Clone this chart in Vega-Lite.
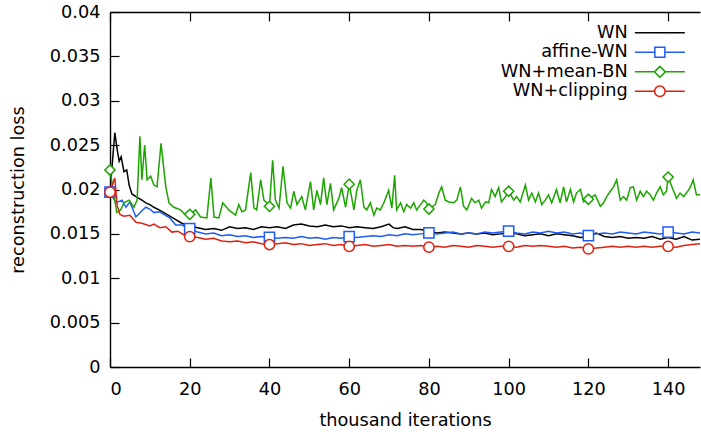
{
"$schema": "https://vega.github.io/schema/vega-lite/v6.json",
"width": 590, "height": 355,
"autosize": {"type": "none"},
"padding": {"left": 110, "top": 12, "right": 1, "bottom": 65},
"background": "white",
"config": {
  "view": {"stroke": null},
  "font": "DejaVu Sans",
  "axis": {"domainColor": "#000", "tickColor": "#000", "labelColor": "#000", "titleColor": "#000", "labelFont": "DejaVu Sans", "titleFont": "DejaVu Sans", "labelFontSize": 17.7, "titleFontSize": 17.7, "titleFontWeight": "normal", "grid": false, "domainWidth": 1.4, "tickWidth": 1.2}
},
"datasets": {
"d": [
{"s":"WN","x":0,"y":0.0197},{"s":"WN","x":1.2,"y":0.0264},{"s":"WN","x":1.8,"y":0.0245},{"s":"WN","x":2.3,"y":0.0232},{"s":"WN","x":2.8,"y":0.0237},{"s":"WN","x":3.5,"y":0.022},{"s":"WN","x":4.2,"y":0.0222},{"s":"WN","x":4.8,"y":0.0205},{"s":"WN","x":5.5,"y":0.0195},{"s":"WN","x":6.5,"y":0.0192},{"s":"WN","x":8,"y":0.0188},{"s":"WN","x":9,"y":0.0185},{"s":"WN","x":10,"y":0.0183},{"s":"WN","x":11,"y":0.018},{"s":"WN","x":12.3,"y":0.0177},{"s":"WN","x":13.5,"y":0.0174},{"s":"WN","x":15,"y":0.017},{"s":"WN","x":16.5,"y":0.0166},{"s":"WN","x":18,"y":0.0162},{"s":"WN","x":20,"y":0.0159},{"s":"WN","x":22,"y":0.0157},{"s":"WN","x":24,"y":0.0155},{"s":"WN","x":26,"y":0.0156},{"s":"WN","x":28,"y":0.0154},{"s":"WN","x":30,"y":0.0158},{"s":"WN","x":32,"y":0.0156},{"s":"WN","x":34,"y":0.0157},{"s":"WN","x":36,"y":0.0155},{"s":"WN","x":38,"y":0.0158},{"s":"WN","x":40,"y":0.0157},{"s":"WN","x":42,"y":0.0158},{"s":"WN","x":44,"y":0.0156},{"s":"WN","x":46,"y":0.016},{"s":"WN","x":48,"y":0.0161},{"s":"WN","x":50,"y":0.0159},{"s":"WN","x":52,"y":0.0158},{"s":"WN","x":54,"y":0.016},{"s":"WN","x":56,"y":0.0158},{"s":"WN","x":58,"y":0.0159},{"s":"WN","x":60,"y":0.0157},{"s":"WN","x":62,"y":0.0158},{"s":"WN","x":64,"y":0.0157},{"s":"WN","x":66,"y":0.0156},{"s":"WN","x":68,"y":0.0158},{"s":"WN","x":70,"y":0.0161},{"s":"WN","x":71,"y":0.0157},{"s":"WN","x":72,"y":0.0156},{"s":"WN","x":74,"y":0.0158},{"s":"WN","x":76,"y":0.0155},{"s":"WN","x":78,"y":0.0155},{"s":"WN","x":80,"y":0.0153},{"s":"WN","x":82,"y":0.0151},{"s":"WN","x":84,"y":0.0152},{"s":"WN","x":86,"y":0.0151},{"s":"WN","x":88,"y":0.015},{"s":"WN","x":90,"y":0.0151},{"s":"WN","x":92,"y":0.015},{"s":"WN","x":94,"y":0.0151},{"s":"WN","x":96,"y":0.0149},{"s":"WN","x":98,"y":0.015},{"s":"WN","x":100,"y":0.0151},{"s":"WN","x":102,"y":0.015},{"s":"WN","x":104,"y":0.0148},{"s":"WN","x":106,"y":0.0149},{"s":"WN","x":108,"y":0.015},{"s":"WN","x":110,"y":0.0148},{"s":"WN","x":112,"y":0.015},{"s":"WN","x":114,"y":0.0149},{"s":"WN","x":116,"y":0.0148},{"s":"WN","x":118,"y":0.0146},{"s":"WN","x":120,"y":0.0147},{"s":"WN","x":122,"y":0.0151},{"s":"WN","x":124,"y":0.0147},{"s":"WN","x":126,"y":0.0146},{"s":"WN","x":128,"y":0.0147},{"s":"WN","x":130,"y":0.0145},{"s":"WN","x":132,"y":0.0146},{"s":"WN","x":134,"y":0.0145},{"s":"WN","x":136,"y":0.0147},{"s":"WN","x":138,"y":0.0144},{"s":"WN","x":140,"y":0.0146},{"s":"WN","x":142,"y":0.0144},{"s":"WN","x":144,"y":0.0147},{"s":"WN","x":146,"y":0.0143},{"s":"WN","x":148,"y":0.0144},
{"s":"affine-WN","x":0,"y":0.0197},{"s":"affine-WN","x":1.5,"y":0.0185},{"s":"affine-WN","x":3,"y":0.0188},{"s":"affine-WN","x":4,"y":0.018},{"s":"affine-WN","x":5,"y":0.0186},{"s":"affine-WN","x":6.5,"y":0.0169},{"s":"affine-WN","x":8,"y":0.0176},{"s":"affine-WN","x":9,"y":0.018},{"s":"affine-WN","x":10,"y":0.0178},{"s":"affine-WN","x":11,"y":0.0174},{"s":"affine-WN","x":12.3,"y":0.0175},{"s":"affine-WN","x":13.5,"y":0.0172},{"s":"affine-WN","x":15,"y":0.0168},{"s":"affine-WN","x":16.5,"y":0.016},{"s":"affine-WN","x":18,"y":0.016},{"s":"affine-WN","x":20,"y":0.0156},{"s":"affine-WN","x":22,"y":0.0152},{"s":"affine-WN","x":24,"y":0.015},{"s":"affine-WN","x":26,"y":0.0151},{"s":"affine-WN","x":28,"y":0.0148},{"s":"affine-WN","x":30,"y":0.0149},{"s":"affine-WN","x":32,"y":0.0147},{"s":"affine-WN","x":34,"y":0.0148},{"s":"affine-WN","x":36,"y":0.0146},{"s":"affine-WN","x":38,"y":0.0147},{"s":"affine-WN","x":40,"y":0.0146},{"s":"affine-WN","x":42,"y":0.0145},{"s":"affine-WN","x":44,"y":0.0146},{"s":"affine-WN","x":46,"y":0.0145},{"s":"affine-WN","x":48,"y":0.0147},{"s":"affine-WN","x":50,"y":0.0145},{"s":"affine-WN","x":52,"y":0.0146},{"s":"affine-WN","x":54,"y":0.0144},{"s":"affine-WN","x":56,"y":0.0146},{"s":"affine-WN","x":58,"y":0.0145},{"s":"affine-WN","x":60,"y":0.0147},{"s":"affine-WN","x":62,"y":0.0146},{"s":"affine-WN","x":64,"y":0.0147},{"s":"affine-WN","x":66,"y":0.0148},{"s":"affine-WN","x":68,"y":0.0147},{"s":"affine-WN","x":70,"y":0.0149},{"s":"affine-WN","x":72,"y":0.0148},{"s":"affine-WN","x":74,"y":0.015},{"s":"affine-WN","x":76,"y":0.0149},{"s":"affine-WN","x":78,"y":0.015},{"s":"affine-WN","x":80,"y":0.0151},{"s":"affine-WN","x":82,"y":0.015},{"s":"affine-WN","x":84,"y":0.0151},{"s":"affine-WN","x":86,"y":0.0152},{"s":"affine-WN","x":88,"y":0.015},{"s":"affine-WN","x":90,"y":0.0151},{"s":"affine-WN","x":92,"y":0.015},{"s":"affine-WN","x":94,"y":0.0152},{"s":"affine-WN","x":96,"y":0.0151},{"s":"affine-WN","x":98,"y":0.0152},{"s":"affine-WN","x":100,"y":0.0153},{"s":"affine-WN","x":102,"y":0.0151},{"s":"affine-WN","x":104,"y":0.015},{"s":"affine-WN","x":106,"y":0.0152},{"s":"affine-WN","x":108,"y":0.0151},{"s":"affine-WN","x":110,"y":0.0153},{"s":"affine-WN","x":112,"y":0.0151},{"s":"affine-WN","x":114,"y":0.0152},{"s":"affine-WN","x":116,"y":0.015},{"s":"affine-WN","x":118,"y":0.0151},{"s":"affine-WN","x":120,"y":0.0148},{"s":"affine-WN","x":122,"y":0.015},{"s":"affine-WN","x":124,"y":0.0151},{"s":"affine-WN","x":126,"y":0.015},{"s":"affine-WN","x":128,"y":0.0152},{"s":"affine-WN","x":130,"y":0.0151},{"s":"affine-WN","x":132,"y":0.015},{"s":"affine-WN","x":134,"y":0.0152},{"s":"affine-WN","x":136,"y":0.0151},{"s":"affine-WN","x":138,"y":0.015},{"s":"affine-WN","x":140,"y":0.0152},{"s":"affine-WN","x":142,"y":0.0151},{"s":"affine-WN","x":144,"y":0.015},{"s":"affine-WN","x":146,"y":0.0152},{"s":"affine-WN","x":148,"y":0.0151},
{"s":"WN+mean-BN","x":0,"y":0.0222},{"s":"WN+mean-BN","x":1.7,"y":0.0174},{"s":"WN+mean-BN","x":2.7,"y":0.0177},{"s":"WN+mean-BN","x":3.5,"y":0.0185},{"s":"WN+mean-BN","x":4.8,"y":0.0188},{"s":"WN+mean-BN","x":6,"y":0.018},{"s":"WN+mean-BN","x":6.8,"y":0.0188},{"s":"WN+mean-BN","x":7.5,"y":0.026},{"s":"WN+mean-BN","x":8,"y":0.0211},{"s":"WN+mean-BN","x":8.7,"y":0.025},{"s":"WN+mean-BN","x":9.3,"y":0.0211},{"s":"WN+mean-BN","x":10.2,"y":0.0215},{"s":"WN+mean-BN","x":11,"y":0.0205},{"s":"WN+mean-BN","x":11.8,"y":0.0203},{"s":"WN+mean-BN","x":12.8,"y":0.0252},{"s":"WN+mean-BN","x":14,"y":0.0203},{"s":"WN+mean-BN","x":14.8,"y":0.0185},{"s":"WN+mean-BN","x":16,"y":0.018},{"s":"WN+mean-BN","x":17.7,"y":0.0177},{"s":"WN+mean-BN","x":19,"y":0.0171},{"s":"WN+mean-BN","x":20,"y":0.0172},{"s":"WN+mean-BN","x":21.5,"y":0.0177},{"s":"WN+mean-BN","x":22.7,"y":0.0169},{"s":"WN+mean-BN","x":24.3,"y":0.0168},{"s":"WN+mean-BN","x":25.3,"y":0.0213},{"s":"WN+mean-BN","x":26.1,"y":0.0169},{"s":"WN+mean-BN","x":27.3,"y":0.0168},{"s":"WN+mean-BN","x":28.3,"y":0.0185},{"s":"WN+mean-BN","x":29.8,"y":0.0177},{"s":"WN+mean-BN","x":31.5,"y":0.0171},{"s":"WN+mean-BN","x":32.3,"y":0.0183},{"s":"WN+mean-BN","x":33.1,"y":0.0175},{"s":"WN+mean-BN","x":34,"y":0.0177},{"s":"WN+mean-BN","x":35.3,"y":0.0219},{"s":"WN+mean-BN","x":36.1,"y":0.0179},{"s":"WN+mean-BN","x":36.8,"y":0.0177},{"s":"WN+mean-BN","x":37.8,"y":0.0211},{"s":"WN+mean-BN","x":38.6,"y":0.0188},{"s":"WN+mean-BN","x":39.3,"y":0.0185},{"s":"WN+mean-BN","x":40,"y":0.0181},{"s":"WN+mean-BN","x":40.8,"y":0.0233},{"s":"WN+mean-BN","x":41.5,"y":0.0188},{"s":"WN+mean-BN","x":42.4,"y":0.0179},{"s":"WN+mean-BN","x":43.4,"y":0.0226},{"s":"WN+mean-BN","x":44.4,"y":0.0185},{"s":"WN+mean-BN","x":45.3,"y":0.0179},{"s":"WN+mean-BN","x":46.1,"y":0.0198},{"s":"WN+mean-BN","x":46.9,"y":0.0183},{"s":"WN+mean-BN","x":48.1,"y":0.0192},{"s":"WN+mean-BN","x":49,"y":0.0177},{"s":"WN+mean-BN","x":50.3,"y":0.0209},{"s":"WN+mean-BN","x":51.1,"y":0.0177},{"s":"WN+mean-BN","x":51.9,"y":0.0199},{"s":"WN+mean-BN","x":52.8,"y":0.0183},{"s":"WN+mean-BN","x":53.6,"y":0.0213},{"s":"WN+mean-BN","x":54.4,"y":0.0183},{"s":"WN+mean-BN","x":55.3,"y":0.0207},{"s":"WN+mean-BN","x":56.1,"y":0.0177},{"s":"WN+mean-BN","x":57.4,"y":0.019},{"s":"WN+mean-BN","x":58.1,"y":0.0202},{"s":"WN+mean-BN","x":59.1,"y":0.018},{"s":"WN+mean-BN","x":60,"y":0.0206},{"s":"WN+mean-BN","x":61.2,"y":0.0177},{"s":"WN+mean-BN","x":61.9,"y":0.0199},{"s":"WN+mean-BN","x":62.8,"y":0.0211},{"s":"WN+mean-BN","x":63.7,"y":0.018},{"s":"WN+mean-BN","x":64.4,"y":0.0177},{"s":"WN+mean-BN","x":65.3,"y":0.0185},{"s":"WN+mean-BN","x":66.2,"y":0.0171},{"s":"WN+mean-BN","x":66.9,"y":0.0179},{"s":"WN+mean-BN","x":67.8,"y":0.0177},{"s":"WN+mean-BN","x":68.7,"y":0.0185},{"s":"WN+mean-BN","x":69.9,"y":0.0199},{"s":"WN+mean-BN","x":70.7,"y":0.0179},{"s":"WN+mean-BN","x":71.4,"y":0.0216},{"s":"WN+mean-BN","x":71.9,"y":0.0177},{"s":"WN+mean-BN","x":72.9,"y":0.0185},{"s":"WN+mean-BN","x":73.7,"y":0.0175},{"s":"WN+mean-BN","x":74.4,"y":0.0183},{"s":"WN+mean-BN","x":75.4,"y":0.0179},{"s":"WN+mean-BN","x":76.2,"y":0.0185},{"s":"WN+mean-BN","x":76.9,"y":0.0177},{"s":"WN+mean-BN","x":77.9,"y":0.0183},{"s":"WN+mean-BN","x":78.7,"y":0.0188},{"s":"WN+mean-BN","x":79.4,"y":0.0185},{"s":"WN+mean-BN","x":80,"y":0.0178},{"s":"WN+mean-BN","x":81.6,"y":0.0183},{"s":"WN+mean-BN","x":82.5,"y":0.0196},{"s":"WN+mean-BN","x":83.2,"y":0.0203},{"s":"WN+mean-BN","x":84.1,"y":0.0188},{"s":"WN+mean-BN","x":85,"y":0.0186},{"s":"WN+mean-BN","x":86.2,"y":0.0185},{"s":"WN+mean-BN","x":87,"y":0.0188},{"s":"WN+mean-BN","x":87.9,"y":0.0203},{"s":"WN+mean-BN","x":88.7,"y":0.0181},{"s":"WN+mean-BN","x":89.5,"y":0.0177},{"s":"WN+mean-BN","x":90.7,"y":0.019},{"s":"WN+mean-BN","x":91.6,"y":0.0185},{"s":"WN+mean-BN","x":92.5,"y":0.0188},{"s":"WN+mean-BN","x":93.2,"y":0.0179},{"s":"WN+mean-BN","x":94.2,"y":0.0186},{"s":"WN+mean-BN","x":95,"y":0.0185},{"s":"WN+mean-BN","x":95.7,"y":0.02},{"s":"WN+mean-BN","x":96.6,"y":0.0192},{"s":"WN+mean-BN","x":97.5,"y":0.0202},{"s":"WN+mean-BN","x":98.2,"y":0.0186},{"s":"WN+mean-BN","x":99.2,"y":0.0192},{"s":"WN+mean-BN","x":100,"y":0.0198},{"s":"WN+mean-BN","x":101.3,"y":0.0188},{"s":"WN+mean-BN","x":102,"y":0.0192},{"s":"WN+mean-BN","x":102.9,"y":0.0186},{"s":"WN+mean-BN","x":104.2,"y":0.0205},{"s":"WN+mean-BN","x":105,"y":0.0188},{"s":"WN+mean-BN","x":105.8,"y":0.0196},{"s":"WN+mean-BN","x":106.7,"y":0.0186},{"s":"WN+mean-BN","x":107.5,"y":0.0196},{"s":"WN+mean-BN","x":108.3,"y":0.0183},{"s":"WN+mean-BN","x":109.2,"y":0.0188},{"s":"WN+mean-BN","x":110,"y":0.0194},{"s":"WN+mean-BN","x":110.8,"y":0.0185},{"s":"WN+mean-BN","x":112,"y":0.02},{"s":"WN+mean-BN","x":112.9,"y":0.0185},{"s":"WN+mean-BN","x":113.8,"y":0.0203},{"s":"WN+mean-BN","x":114.5,"y":0.0186},{"s":"WN+mean-BN","x":115.5,"y":0.02},{"s":"WN+mean-BN","x":116.3,"y":0.0186},{"s":"WN+mean-BN","x":117,"y":0.0196},{"s":"WN+mean-BN","x":118,"y":0.02},{"s":"WN+mean-BN","x":118.8,"y":0.0186},{"s":"WN+mean-BN","x":120,"y":0.0189},{"s":"WN+mean-BN","x":121.7,"y":0.0194},{"s":"WN+mean-BN","x":123,"y":0.0181},{"s":"WN+mean-BN","x":123.8,"y":0.0185},{"s":"WN+mean-BN","x":124.6,"y":0.0192},{"s":"WN+mean-BN","x":125.5,"y":0.0198},{"s":"WN+mean-BN","x":126.3,"y":0.0203},{"s":"WN+mean-BN","x":127.1,"y":0.0211},{"s":"WN+mean-BN","x":128,"y":0.0188},{"s":"WN+mean-BN","x":128.8,"y":0.0192},{"s":"WN+mean-BN","x":129.6,"y":0.0188},{"s":"WN+mean-BN","x":130.5,"y":0.0202},{"s":"WN+mean-BN","x":131.3,"y":0.0203},{"s":"WN+mean-BN","x":132.1,"y":0.0188},{"s":"WN+mean-BN","x":133,"y":0.0198},{"s":"WN+mean-BN","x":133.8,"y":0.0192},{"s":"WN+mean-BN","x":134.6,"y":0.0198},{"s":"WN+mean-BN","x":135.5,"y":0.0194},{"s":"WN+mean-BN","x":136.3,"y":0.0188},{"s":"WN+mean-BN","x":137.1,"y":0.0196},{"s":"WN+mean-BN","x":138,"y":0.0203},{"s":"WN+mean-BN","x":138.8,"y":0.0194},{"s":"WN+mean-BN","x":139.6,"y":0.0198},{"s":"WN+mean-BN","x":140,"y":0.0214},{"s":"WN+mean-BN","x":141.4,"y":0.0198},{"s":"WN+mean-BN","x":142.1,"y":0.019},{"s":"WN+mean-BN","x":143,"y":0.0196},{"s":"WN+mean-BN","x":143.9,"y":0.0192},{"s":"WN+mean-BN","x":144.6,"y":0.0196},{"s":"WN+mean-BN","x":145.5,"y":0.0202},{"s":"WN+mean-BN","x":146.3,"y":0.0211},{"s":"WN+mean-BN","x":147.1,"y":0.0194},{"s":"WN+mean-BN","x":148,"y":0.0194},
{"s":"WN+clipping","x":0,"y":0.0197},{"s":"WN+clipping","x":1.2,"y":0.0213},{"s":"WN+clipping","x":1.8,"y":0.0182},{"s":"WN+clipping","x":2.5,"y":0.0172},{"s":"WN+clipping","x":3.5,"y":0.017},{"s":"WN+clipping","x":5,"y":0.0171},{"s":"WN+clipping","x":6.5,"y":0.0163},{"s":"WN+clipping","x":8,"y":0.0162},{"s":"WN+clipping","x":10,"y":0.0159},{"s":"WN+clipping","x":11,"y":0.0161},{"s":"WN+clipping","x":12.5,"y":0.0157},{"s":"WN+clipping","x":14,"y":0.0158},{"s":"WN+clipping","x":15.5,"y":0.0152},{"s":"WN+clipping","x":17,"y":0.0153},{"s":"WN+clipping","x":18.5,"y":0.0149},{"s":"WN+clipping","x":20,"y":0.0147},{"s":"WN+clipping","x":22,"y":0.0146},{"s":"WN+clipping","x":24,"y":0.0144},{"s":"WN+clipping","x":26,"y":0.0145},{"s":"WN+clipping","x":28,"y":0.0142},{"s":"WN+clipping","x":30,"y":0.0141},{"s":"WN+clipping","x":32,"y":0.0142},{"s":"WN+clipping","x":34,"y":0.014},{"s":"WN+clipping","x":36,"y":0.0141},{"s":"WN+clipping","x":38,"y":0.0139},{"s":"WN+clipping","x":40,"y":0.0138},{"s":"WN+clipping","x":42,"y":0.0139},{"s":"WN+clipping","x":44,"y":0.014},{"s":"WN+clipping","x":46,"y":0.0138},{"s":"WN+clipping","x":48,"y":0.0139},{"s":"WN+clipping","x":50,"y":0.0137},{"s":"WN+clipping","x":52,"y":0.0138},{"s":"WN+clipping","x":54,"y":0.0139},{"s":"WN+clipping","x":56,"y":0.0137},{"s":"WN+clipping","x":58,"y":0.0138},{"s":"WN+clipping","x":60,"y":0.0136},{"s":"WN+clipping","x":62,"y":0.0137},{"s":"WN+clipping","x":64,"y":0.0138},{"s":"WN+clipping","x":66,"y":0.0136},{"s":"WN+clipping","x":68,"y":0.0137},{"s":"WN+clipping","x":70,"y":0.0138},{"s":"WN+clipping","x":72,"y":0.0136},{"s":"WN+clipping","x":74,"y":0.0137},{"s":"WN+clipping","x":76,"y":0.0136},{"s":"WN+clipping","x":78,"y":0.0137},{"s":"WN+clipping","x":80,"y":0.0135},{"s":"WN+clipping","x":82,"y":0.0136},{"s":"WN+clipping","x":84,"y":0.0135},{"s":"WN+clipping","x":86,"y":0.0137},{"s":"WN+clipping","x":88,"y":0.0136},{"s":"WN+clipping","x":90,"y":0.0135},{"s":"WN+clipping","x":92,"y":0.0137},{"s":"WN+clipping","x":94,"y":0.0136},{"s":"WN+clipping","x":96,"y":0.0135},{"s":"WN+clipping","x":98,"y":0.0136},{"s":"WN+clipping","x":100,"y":0.0136},{"s":"WN+clipping","x":102,"y":0.0135},{"s":"WN+clipping","x":104,"y":0.0137},{"s":"WN+clipping","x":106,"y":0.0136},{"s":"WN+clipping","x":108,"y":0.0137},{"s":"WN+clipping","x":110,"y":0.0136},{"s":"WN+clipping","x":112,"y":0.0135},{"s":"WN+clipping","x":114,"y":0.0136},{"s":"WN+clipping","x":116,"y":0.0134},{"s":"WN+clipping","x":118,"y":0.0135},{"s":"WN+clipping","x":120,"y":0.0133},{"s":"WN+clipping","x":122,"y":0.0134},{"s":"WN+clipping","x":124,"y":0.0135},{"s":"WN+clipping","x":126,"y":0.0136},{"s":"WN+clipping","x":128,"y":0.0135},{"s":"WN+clipping","x":130,"y":0.0136},{"s":"WN+clipping","x":132,"y":0.0135},{"s":"WN+clipping","x":134,"y":0.0136},{"s":"WN+clipping","x":136,"y":0.0135},{"s":"WN+clipping","x":138,"y":0.0136},{"s":"WN+clipping","x":140,"y":0.0136},{"s":"WN+clipping","x":142,"y":0.0135},{"s":"WN+clipping","x":144,"y":0.0137},{"s":"WN+clipping","x":146,"y":0.0138},{"s":"WN+clipping","x":148,"y":0.0139}
]
},
"data": {"name": "d"},
"layer": [
{
  "mark": {"type": "line", "strokeWidth": 1.5, "clip": true, "interpolate": "linear"},
  "encoding": {
    "x": {"field": "x", "type": "quantitative", "scale": {"domain": [0, 148], "nice": false, "zero": false},
      "axis": {"orient": "bottom", "values": [0,20,40,60,80,100,120,140], "tickSize": -9, "labelPadding": 22, "title": "thousand iterations", "titlePadding": 14}},
    "y": {"field": "y", "type": "quantitative", "scale": {"domain": [0, 0.04], "nice": false, "zero": true},
      "axis": {"values": [0,0.005,0.01,0.015,0.02,0.025,0.03,0.035,0.04], "format": "~g", "tickSize": -9, "labelPadding": 19, "title": "reconstruction loss", "titlePadding": 22}},
    "color": {"field": "s", "type": "nominal",
      "scale": {"domain": ["WN","affine-WN","WN+mean-BN","WN+clipping"], "range": ["#000000","#1d5cf5","#1ca400","#e0200f"]},
      "legend": {"orient": "top-right", "title": null, "offset": 12, "padding": 0, "labelFont": "DejaVu Sans", "labelFontSize": 17.7, "labelColor": "#000", "symbolSize": 100, "symbolStrokeWidth": 1.5, "rowPadding": 0.5, "labelAlign": "right", "labelOffset": -41,
        "encode": {"symbols": {"update": {
          "shape": {"signal": "datum.value === 'WN' ? 'M-5,0H5' : datum.value === 'affine-WN' ? 'M-5,0H-1M1,0H5M-1,-1H1V1H-1Z' : datum.value === 'WN+mean-BN' ? 'M-5,0H-1.1M1.1,0H5M-1.1,0L0,-1.1L1.1,0L0,1.1Z' : 'M-5,0H-1.05M1.05,0H5M-1.05,0A1.05,1.05,0,1,0,1.05,0A1.05,1.05,0,1,0,-1.05,0Z'"},
          "fill": {"value": "white"},
          "stroke": {"scale": "color", "field": "value"},
          "strokeWidth": {"value": 1.5}
        }}}}
    }
  }
},
{
  "transform": [{"filter": "datum.x % 20 === 0 && datum.s !== 'WN'"}],
  "mark": {"type": "point", "filled": false, "fill": "white", "fillOpacity": 1, "strokeWidth": 1.5, "size": 105, "opacity": 1},
  "encoding": {
    "x": {"field": "x", "type": "quantitative",
      "axis": {"orient": "top", "values": [0,20,40,60,80,100,120,140], "tickSize": -9, "labels": false, "title": null}},
    "y": {"field": "y", "type": "quantitative"},
    "color": {"field": "s", "type": "nominal", "legend": null},
    "shape": {"field": "s", "type": "nominal", "scale": {"domain": ["affine-WN","WN+mean-BN","WN+clipping"], "range": ["square","diamond","circle"]}, "legend": null}
  }
}
],
"resolve": {"axis": {"x": "independent"}}
}
